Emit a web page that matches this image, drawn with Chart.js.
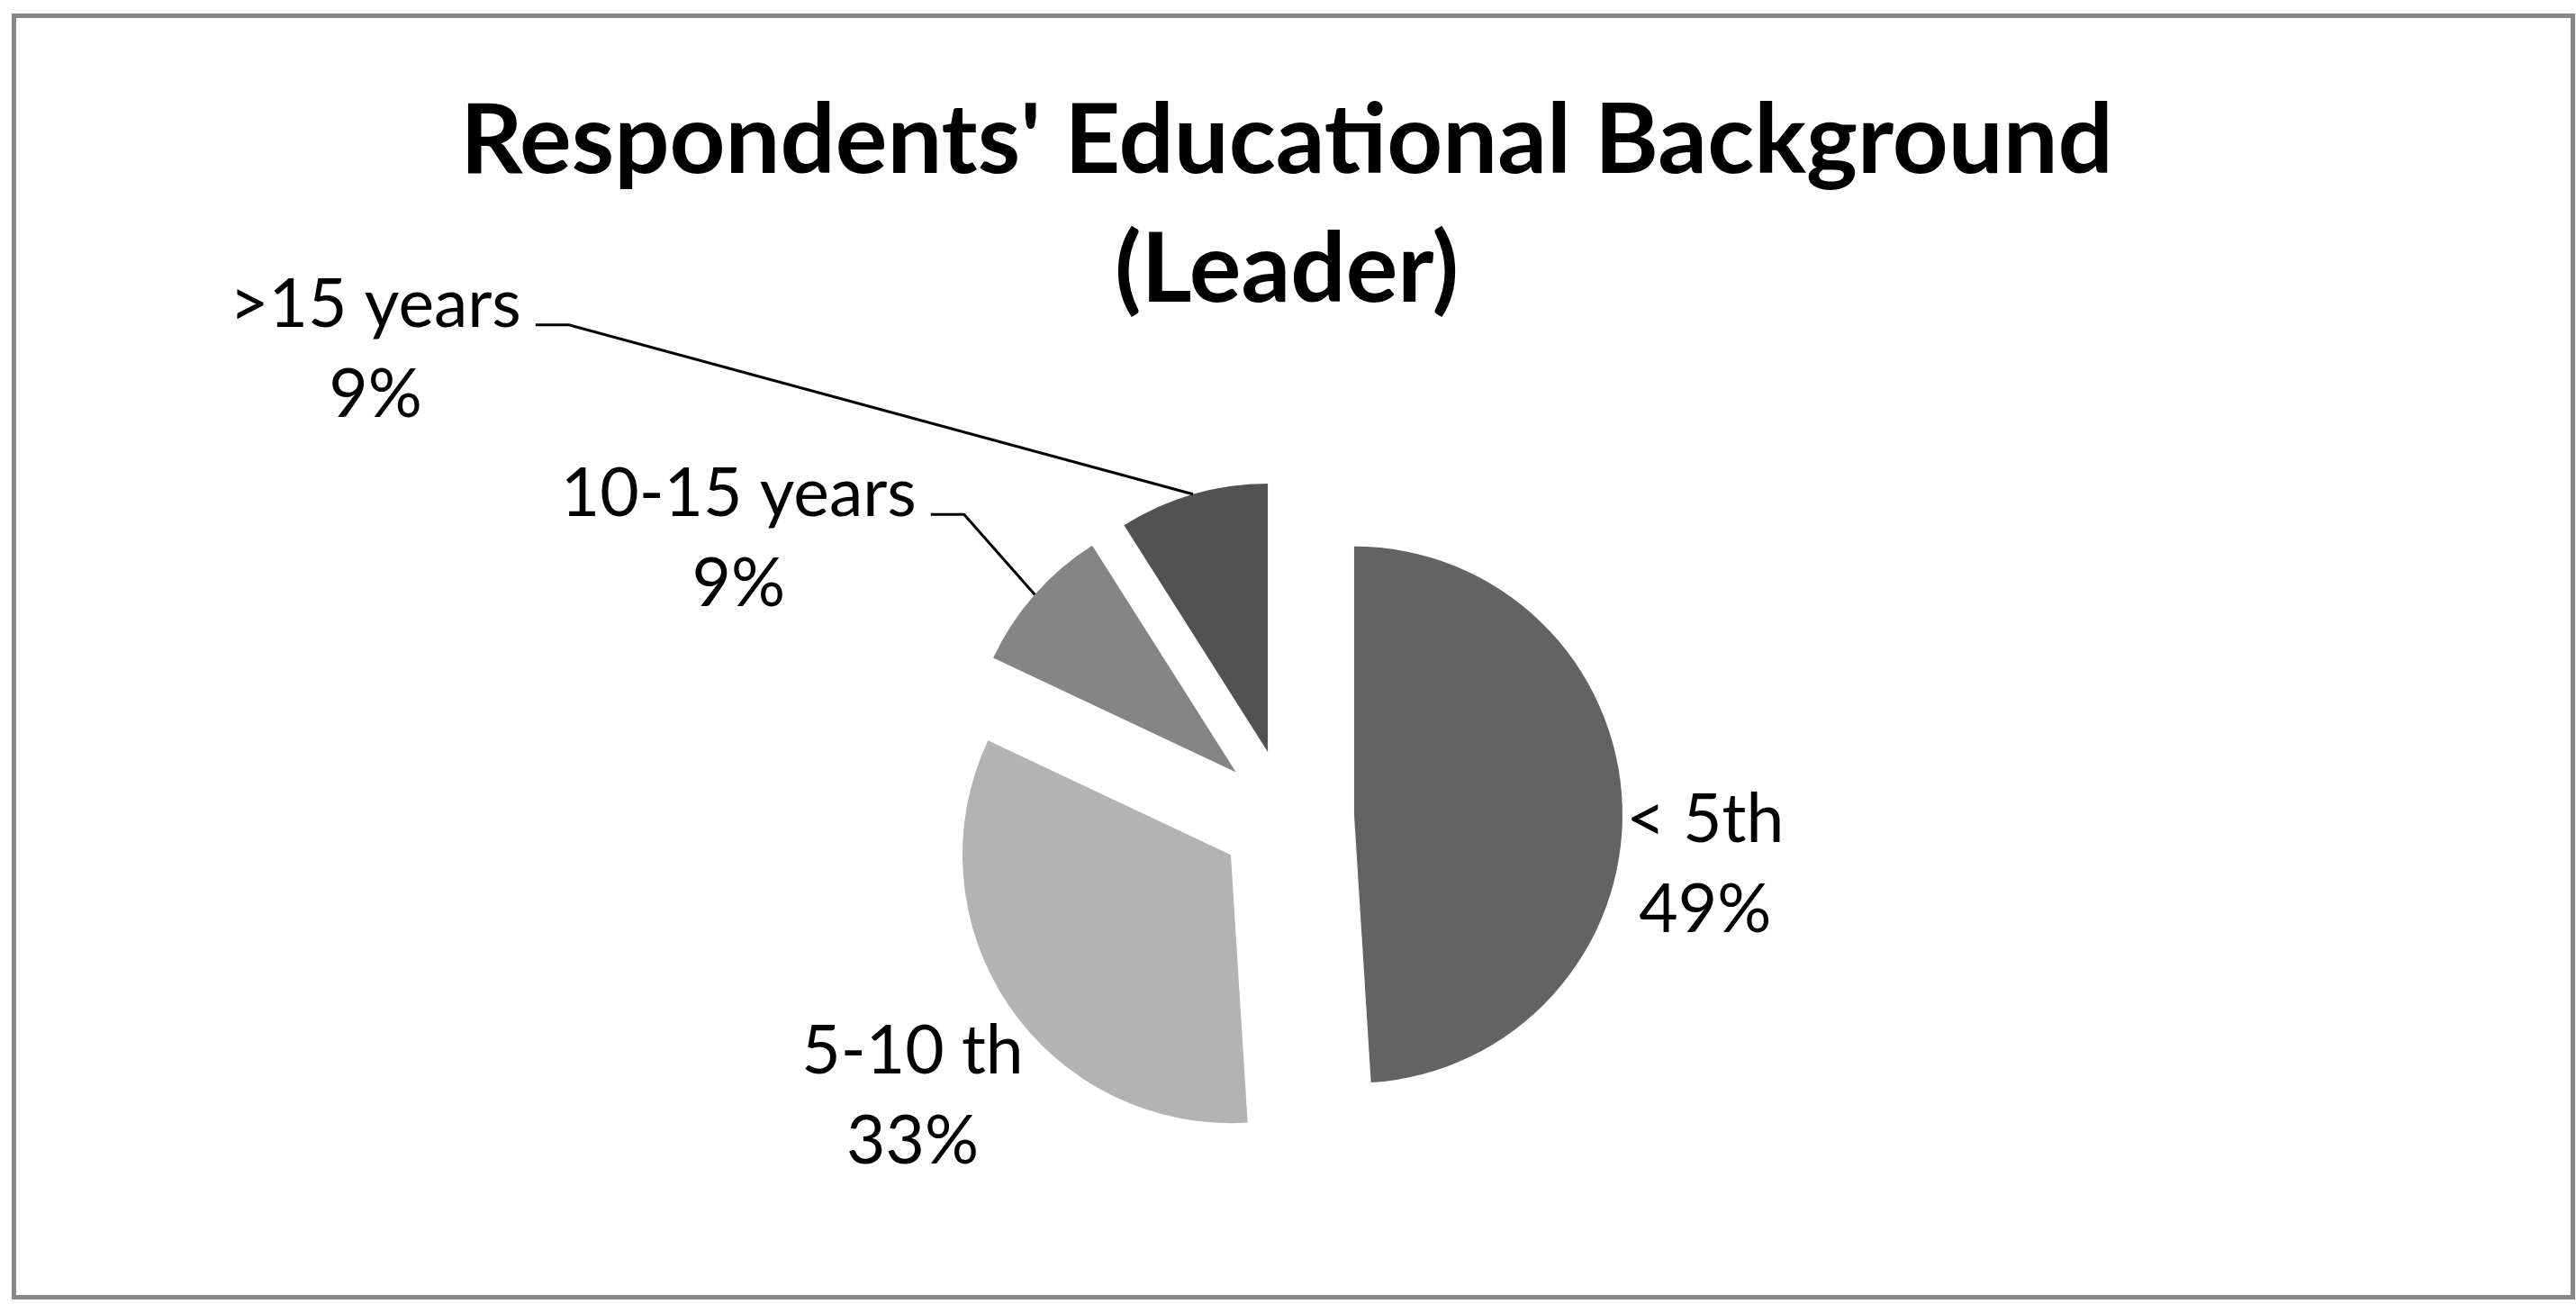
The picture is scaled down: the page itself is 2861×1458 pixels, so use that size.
<!DOCTYPE html>
<html>
<head>
<meta charset="utf-8">
<title>Respondents' Educational Background (Leader)</title>
<script src="https://cdn.jsdelivr.net/npm/chart.js@4.4.1/dist/chart.umd.min.js"></script>
<style>
    html, body { margin: 0; padding: 0; background: #fff; }
    #grafico { display: block; }
</style>
</head>
<body>
<canvas id="grafico" width="2861" height="1458"></canvas>
<script>
// dados
var categorias = ['< 5th', '5-10 th', '10-15 years', '>15 years'];
var valores = [49, 33, 9, 9];
var titulo = ["Respondents' Educational Background", '(Leader)'];

// estilo
var cores = ['#636363', '#b3b3b3', '#858585', '#525252'];
var EXPLODE = 75;      // afastamento de cada fatia (px)
var RAIO = 298;
// deslocamento do rotulo (centro do texto, linha de base) a partir da borda da fatia
var rotuloDesloc = [[92, 40], [-107, 75], [-329, -87], [-908, -186]];
var comLinha = [false, false, true, true];
var fonteRotulo = '75px Lato';
var alturaLinha = 100;

var total = valores.reduce(function(a, b) { return a + b; }, 0);

function meioArco(p) {
    return (p.startAngle + p.endAngle) / 2;
}

var moldura = {
    id: 'moldura',
    beforeDraw: function(chart) {
        var c = chart.ctx;
        c.save();
        c.fillStyle = '#fff';
        c.fillRect(0, 0, chart.width, chart.height);
        c.strokeStyle = '#878787';
        c.lineWidth = 5;
        c.strokeRect(15.5, 17.5, chart.width - 19, chart.height - 35);
        c.restore();
    }
};

// fatias destacadas: cada arco e desenhado deslocado ao longo do seu angulo medio
var destaque = {
    id: 'destaque',
    beforeDatasetDraw: function(chart, args) {
        var c = chart.ctx;
        var arcos = args.meta.data;
        for (var i = 0; i < arcos.length; i++) {
            var p = arcos[i].getProps(['startAngle', 'endAngle'], true);
            var meio = meioArco(p);
            c.save();
            c.translate(Math.cos(meio) * EXPLODE, Math.sin(meio) * EXPLODE);
            arcos[i].draw(c, chart.chartArea);
            c.restore();
        }
        return false;
    }
};

var rotulos = {
    id: 'rotulos',
    afterDatasetsDraw: function(chart) {
        var c = chart.ctx;
        var arcos = chart.getDatasetMeta(0).data;
        c.save();
        c.font = fonteRotulo;
        c.fillStyle = '#000';
        c.textAlign = 'center';
        c.textBaseline = 'alphabetic';
        for (var i = 0; i < arcos.length; i++) {
            var p = arcos[i].getProps(['x', 'y', 'startAngle', 'endAngle', 'outerRadius'], true);
            var meio = meioArco(p);
            var ax = p.x + Math.cos(meio) * (p.outerRadius + EXPLODE);
            var ay = p.y + Math.sin(meio) * (p.outerRadius + EXPLODE);
            var tx = ax + rotuloDesloc[i][0];
            var ty = ay + rotuloDesloc[i][1];
            var pct = Math.round(valores[i] / total * 100) + '%';
            c.fillText(categorias[i], tx, ty);
            c.fillText(pct, tx, ty + alturaLinha);

            if (comLinha[i]) {
                var w = c.measureText(categorias[i]).width;
                var x0 = tx + w / 2 + 16;
                var y0 = ty - 2;
                c.beginPath();
                c.moveTo(x0, y0);
                c.lineTo(x0 + 37, y0);
                c.lineTo(ax, ay);
                c.strokeStyle = '#000';
                c.lineWidth = 3;
                c.stroke();
            }
        }
        c.restore();
    }
};

new Chart(document.getElementById('grafico'), {
    type: 'pie',
    data: {
        labels: categorias,
        datasets: [{
            data: valores,
            backgroundColor: cores,
            borderWidth: 0,
            offset: 0,
            hoverOffset: 0
        }]
    },
    options: {
        responsive: false,
        devicePixelRatio: 1,
        animation: false,
        events: [],
        radius: RAIO,
        layout: { padding: { top: 0, left: 0, right: 3, bottom: 144 } },
        plugins: {
            legend: { display: false },
            tooltip: { enabled: false },
            title: {
                display: true,
                text: titulo,
                color: '#000',
                font: { family: 'Lato', size: 108, weight: 'bold', lineHeight: 1.324 },
                padding: { top: 86, bottom: 128 }
            }
        }
    },
    plugins: [moldura, destaque, rotulos]
});
</script>
</body>
</html>
